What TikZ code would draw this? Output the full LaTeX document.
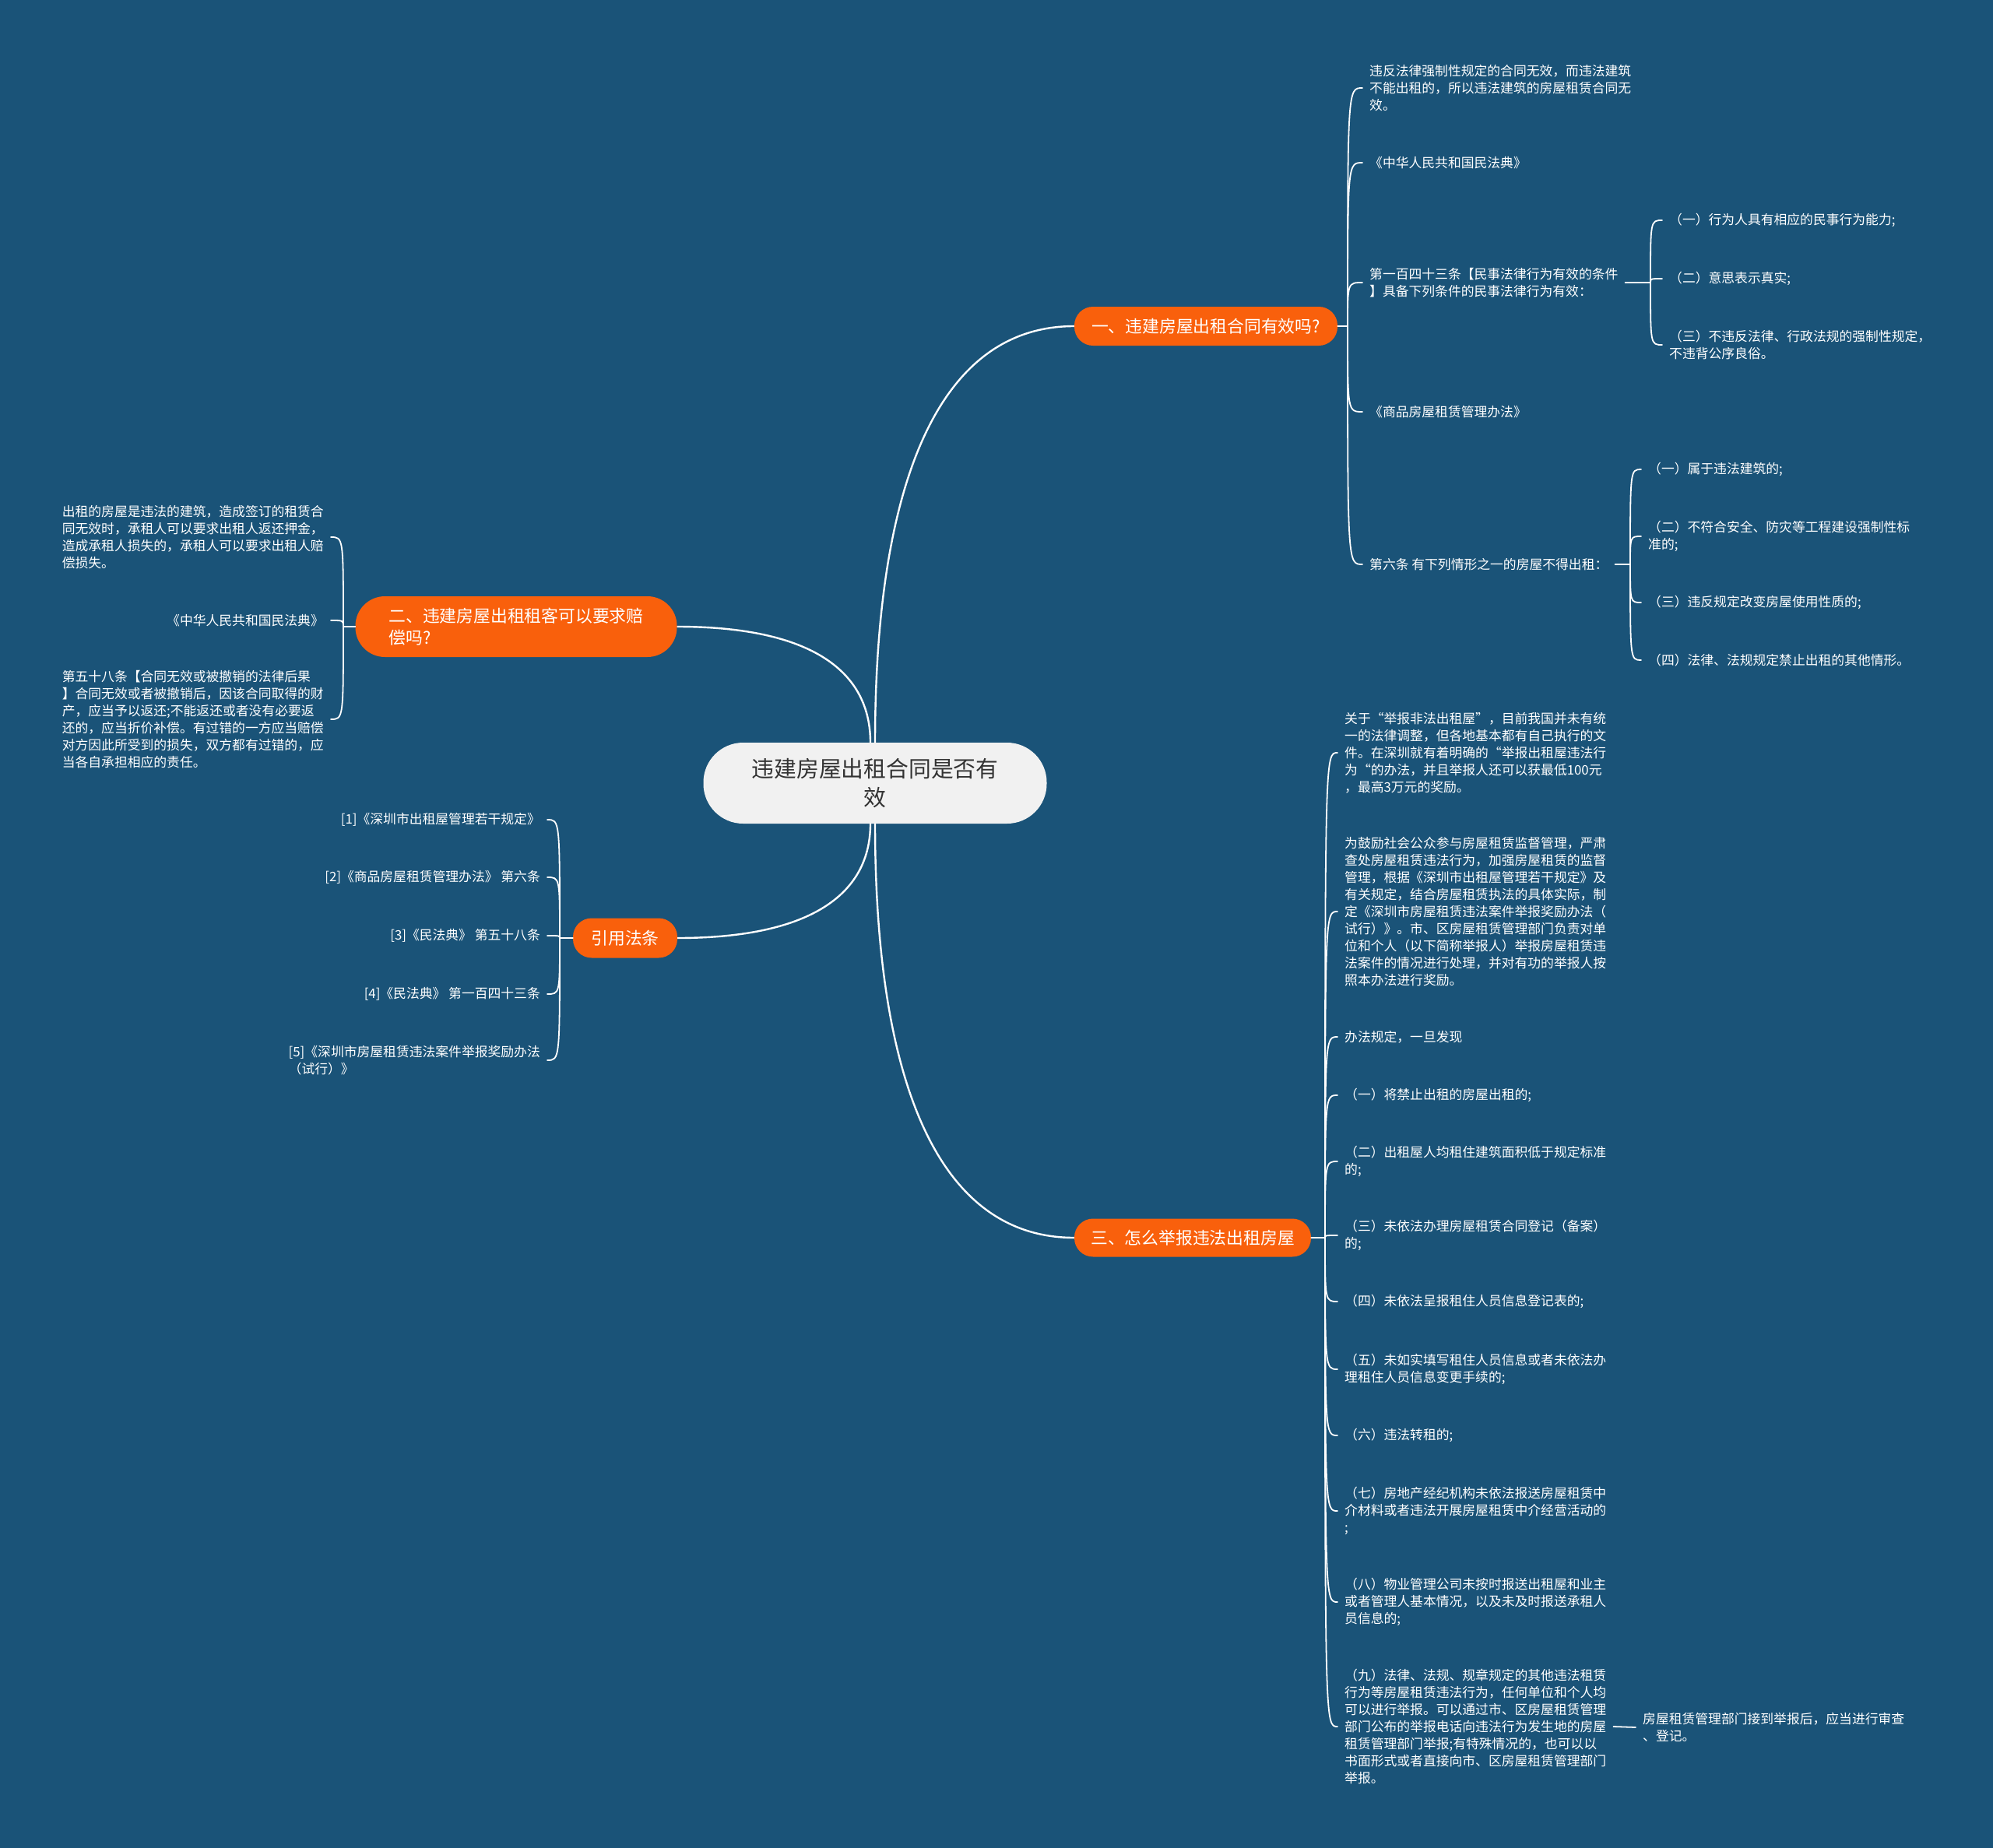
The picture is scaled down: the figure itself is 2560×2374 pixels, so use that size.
\documentclass[tikz,border=0pt]{standalone}
\usepackage{fontspec}
\setmainfont{Noto Sans CJK SC}
\usepackage{xcolor}
\usepackage{tikz}
\usetikzlibrary{calc}
\definecolor{bgblue}{RGB}{26,83,120}
\definecolor{pillorange}{RGB}{249,96,12}
\definecolor{rootgray}{RGB}{241,241,241}
\definecolor{roottext}{RGB}{51,51,51}

\begin{document}
\begin{tikzpicture}[
  x=1pt, y=-1pt,
  root/.style={fill=rootgray, text=roottext, rounded corners=51pt, align=center, minimum width=441pt, minimum height=104pt, inner sep=0pt, font=\fontsize{28.8}{37.5}\selectfont},
  topic/.style={fill=pillorange, text=white, rounded corners=24pt, align=left, inner sep=0pt, minimum height=50pt, font=\fontsize{21.8}{28}\selectfont},
  leaf/.style={text=white, align=left, inner xsep=9pt, inner ysep=3pt, font=\fontsize{16.8}{22}\selectfont},
  link/.style={draw=white, line width=2.4pt},
  twig/.style={draw=white, line width=1.8pt, line cap=round}
]
\fill[bgblue] (0,0) rectangle (2560,2374);
\useasboundingbox (0,0) rectangle (2560,2374);

\node[root] (root) at (1124,1006) {违建房屋出租合同是否有\\效};
\node[topic, minimum width=338pt] (b1) at (1549,419) {一、违建房屋出租合同有效吗?};
\node[topic, minimum width=413pt, minimum height=78pt, rounded corners=38pt] (b2) at (663,805) {二、违建房屋出租租客可以要求赔\\偿吗?};
\node[topic, minimum width=134pt, minimum height=51pt] (b3) at (803,1205) {引用法条};
\node[topic, minimum width=304pt, minimum height=49pt] (b4) at (1532,1590) {三、怎么举报违法出租房屋};

\node[leaf, anchor=west] (r1a) at (1750,113) {违反法律强制性规定的合同无效，而违法建筑\\不能出租的，所以违法建筑的房屋租赁合同无\\效。};
\node[leaf, anchor=west] (r1b) at (1750,209) {《中华人民共和国民法典》};
\node[leaf, anchor=west] (r1c) at (1750,363) {第一百四十三条【民事法律行为有效的条件\\】具备下列条件的民事法律行为有效：};
\node[leaf, anchor=west] (r1d) at (1750,529) {《商品房屋租赁管理办法》};
\node[leaf, anchor=west] (r1e) at (1750,725) {第六条 有下列情形之一的房屋不得出租：};

\node[leaf, anchor=west] (r1c1) at (2135,283) {（一）行为人具有相应的民事行为能力;};
\node[leaf, anchor=west] (r1c2) at (2135,358) {（二）意思表示真实;};
\node[leaf, anchor=west] (r1c3) at (2135,443) {（三）不违反法律、行政法规的强制性规定，\\不违背公序良俗。};

\node[leaf, anchor=west] (r1e1) at (2108,603) {（一）属于违法建筑的;};
\node[leaf, anchor=west] (r1e2) at (2108,689) {（二）不符合安全、防灾等工程建设强制性标\\准的;};
\node[leaf, anchor=west] (r1e3) at (2108,774) {（三）违反规定改变房屋使用性质的;};
\node[leaf, anchor=west] (r1e4) at (2108,848) {（四）法律、法规规定禁止出租的其他情形。};

\node[leaf, anchor=east] (l2a) at (425,690) {出租的房屋是违法的建筑，造成签订的租赁合\\同无效时，承租人可以要求出租人返还押金，\\造成承租人损失的，承租人可以要求出租人赔\\偿损失。};
\node[leaf, anchor=east] (l2b) at (425,797) {《中华人民共和国民法典》};
\node[leaf, anchor=east] (l2c) at (425,924) {第五十八条【合同无效或被撤销的法律后果\\】合同无效或者被撤销后，因该合同取得的财\\产，应当予以返还;不能返还或者没有必要返\\还的，应当折价补偿。有过错的一方应当赔偿\\对方因此所受到的损失，双方都有过错的，应\\当各自承担相应的责任。};

\node[leaf, anchor=east] (l3a) at (703,1053) {[1]《深圳市出租屋管理若干规定》};
\node[leaf, anchor=east] (l3b) at (703,1127) {[2]《商品房屋租赁管理办法》 第六条};
\node[leaf, anchor=east] (l3c) at (703,1202) {[3]《民法典》 第五十八条};
\node[leaf, anchor=east] (l3d) at (703,1277) {[4]《民法典》 第一百四十三条};
\node[leaf, anchor=east] (l3e) at (703,1362) {[5]《深圳市房屋租赁违法案件举报奖励办法\\（试行）》};

\node[leaf, anchor=west] (r4a) at (1718,967) {关于“举报非法出租屋”，目前我国并未有统\\一的法律调整，但各地基本都有自己执行的文\\件。在深圳就有着明确的“举报出租屋违法行\\为“的办法，并且举报人还可以获最低100元\\，最高3万元的奖励。};
\node[leaf, anchor=west] (r4b) at (1718,1171) {为鼓励社会公众参与房屋租赁监督管理，严肃\\查处房屋租赁违法行为，加强房屋租赁的监督\\管理，根据《深圳市出租屋管理若干规定》及\\有关规定，结合房屋租赁执法的具体实际，制\\定《深圳市房屋租赁违法案件举报奖励办法（\\试行）》。市、区房屋租赁管理部门负责对单\\位和个人（以下简称举报人）举报房屋租赁违\\法案件的情况进行处理，并对有功的举报人按\\照本办法进行奖励。};
\node[leaf, anchor=west] (r4c) at (1718,1332) {办法规定，一旦发现};
\node[leaf, anchor=west] (r4d) at (1718,1407) {（一）将禁止出租的房屋出租的;};
\node[leaf, anchor=west] (r4e) at (1718,1492) {（二）出租屋人均租住建筑面积低于规定标准\\的;};
\node[leaf, anchor=west] (r4f) at (1718,1587) {（三）未依法办理房屋租赁合同登记（备案）\\的;};
\node[leaf, anchor=west] (r4g) at (1718,1672) {（四）未依法呈报租住人员信息登记表的;};
\node[leaf, anchor=west] (r4h) at (1718,1759) {（五）未如实填写租住人员信息或者未依法办\\理租住人员信息变更手续的;};
\node[leaf, anchor=west] (r4i) at (1718,1844) {（六）违法转租的;};
\node[leaf, anchor=west] (r4j) at (1718,1941) {（七）房地产经纪机构未依法报送房屋租赁中\\介材料或者违法开展房屋租赁中介经营活动的\\;};
\node[leaf, anchor=west] (r4k) at (1718,2058) {（八）物业管理公司未按时报送出租屋和业主\\或者管理人基本情况，以及未及时报送承租人\\员信息的;};
\node[leaf, anchor=west] (r4l) at (1718,2218) {（九）法律、法规、规章规定的其他违法租赁\\行为等房屋租赁违法行为，任何单位和个人均\\可以进行举报。可以通过市、区房屋租赁管理\\部门公布的举报电话向违法行为发生地的房屋\\租赁管理部门举报;有特殊情况的，也可以以\\书面形式或者直接向市、区房屋租赁管理部门\\举报。};
\node[leaf, anchor=west] (r4m) at (2101,2219) {房屋租赁管理部门接到举报后，应当进行审查\\、登记。};

\draw[link] (root.north) .. controls +(0,-320) and +(-180,0) .. (b1.west);
\draw[link] ([xshift=-6pt]root.north) .. controls +(0,-90) and +(175,0) .. (b2.east);
\draw[link] ([xshift=-6pt]root.south) .. controls +(0,88) and +(175,0) .. (b3.east);
\draw[link] (root.south) .. controls +(0,320) and +(-180,0) .. (b4.west);

\coordinate (j1) at (1731,419);
\coordinate (j1c) at (2120,363);
\coordinate (j1e) at (2094,725);
\coordinate (j2) at (441,805);
\coordinate (j3) at (719,1205);
\coordinate (j4) at (1702,1590);

\draw[twig] (b1.east) -- (j1);
\foreach \c in {r1a,r1b,r1c,r1d,r1e}
  \draw[twig] (j1) .. controls (j1 |- \c.west) and (j1 |- \c.west) .. (\c.west);
\draw[twig] (r1c.east) -- (j1c);
\foreach \c in {r1c1,r1c2,r1c3}
  \draw[twig] (j1c) .. controls (j1c |- \c.west) and (j1c |- \c.west) .. (\c.west);
\draw[twig] (r1e.east) -- (j1e);
\foreach \c in {r1e1,r1e2,r1e3,r1e4}
  \draw[twig] (j1e) .. controls (j1e |- \c.west) and (j1e |- \c.west) .. (\c.west);

\draw[twig] (b2.west) -- (j2);
\foreach \c in {l2a,l2b,l2c}
  \draw[twig] (j2) .. controls (j2 |- \c.east) and (j2 |- \c.east) .. (\c.east);
\draw[twig] (b3.west) -- (j3);
\foreach \c in {l3a,l3b,l3c,l3d,l3e}
  \draw[twig] (j3) .. controls (j3 |- \c.east) and (j3 |- \c.east) .. (\c.east);

\draw[twig] (b4.east) -- (j4);
\foreach \c in {r4a,r4b,r4c,r4d,r4e,r4f,r4g,r4h,r4i,r4j,r4k,r4l}
  \draw[twig] (j4) .. controls (j4 |- \c.west) and (j4 |- \c.west) .. (\c.west);
\draw[twig] (r4l.east) -- (r4m.west);
\end{tikzpicture}
\end{document}
